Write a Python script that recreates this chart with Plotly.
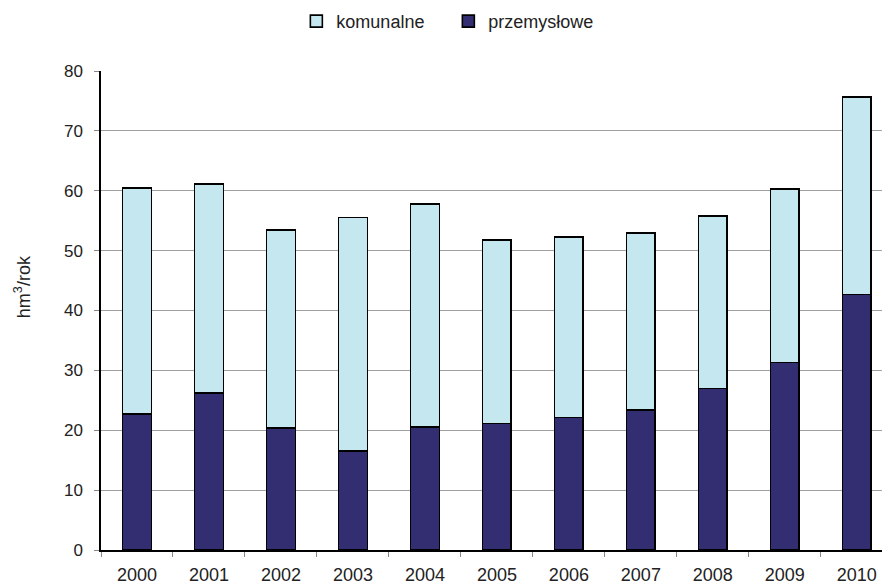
import plotly.graph_objects as go

# Wastewater volumes by year, hm3 per year
years = ["2000", "2001", "2002", "2003", "2004", "2005",
         "2006", "2007", "2008", "2009", "2010"]
przemyslowe = [22.7, 26.2, 20.4, 16.5, 20.5, 21.1, 22.1, 23.4, 27.0, 31.3, 42.7]
komunalne = [37.8, 34.9, 33.0, 39.0, 37.3, 30.7, 30.2, 29.5, 28.8, 29.0, 33.0]
y_ticks = [0, 10, 20, 30, 40, 50, 60, 70, 80]

FONT = "Liberation Sans, Arial, sans-serif"
TEXT = "#222222"

fig = go.Figure()
fig.add_trace(go.Bar(
    x=years, y=przemyslowe, name="przemysłowe",
    marker=dict(color="#332D71", line=dict(color="#000000", width=1.6)),
))
fig.add_trace(go.Bar(
    x=years, y=komunalne, name="komunalne",
    marker=dict(color="#C4E7F0", line=dict(color="#000000", width=1.6)),
))

fig.update_layout(
    barmode="stack",
    bargap=0.6,
    width=882, height=587,
    margin=dict(l=101, r=0, t=71, b=37),
    plot_bgcolor="#FFFFFF",
    paper_bgcolor="#FFFFFF",
    font=dict(family=FONT, size=17, color=TEXT),
    legend=dict(
        orientation="h", traceorder="reversed",
        xref="container", yref="container",
        x=0.336, y=0.995, xanchor="left", yanchor="top",
        font=dict(size=18, color=TEXT),
        entrywidth=107, entrywidthmode="pixels",
        itemwidth=30,
        bgcolor="rgba(0,0,0,0)",
    ),
    xaxis=dict(
        type="category",
        range=[-0.5, 10.35],
        automargin=False,
        showline=True, linecolor="#000000", linewidth=1.5,
        ticks="outside", tickson="boundaries", ticklen=5,
        tickcolor="#888888", tickwidth=1,
        showgrid=False,
        ticklabelstandoff=8,
        tickfont=dict(size=18, color=TEXT),
    ),
    yaxis=dict(
        range=[0, 80],
        tickvals=y_ticks,
        automargin=False,
        showline=True, linecolor="#000000", linewidth=1.5,
        ticks="outside", ticklen=5, tickcolor="#888888", tickwidth=1,
        showgrid=True, gridcolor="#A0A0A0", gridwidth=1,
        zeroline=False,
        ticklabelstandoff=8,
        tickfont=dict(size=17, color=TEXT),
    ),
    annotations=[dict(
        text="hm<sup>3</sup>/rok", textangle=-90,
        xref="paper", yref="paper", x=-0.101, y=0.549,
        xanchor="center", yanchor="middle", showarrow=False,
        font=dict(size=18, color=TEXT),
    )],
)

fig.write_html("out.html")
